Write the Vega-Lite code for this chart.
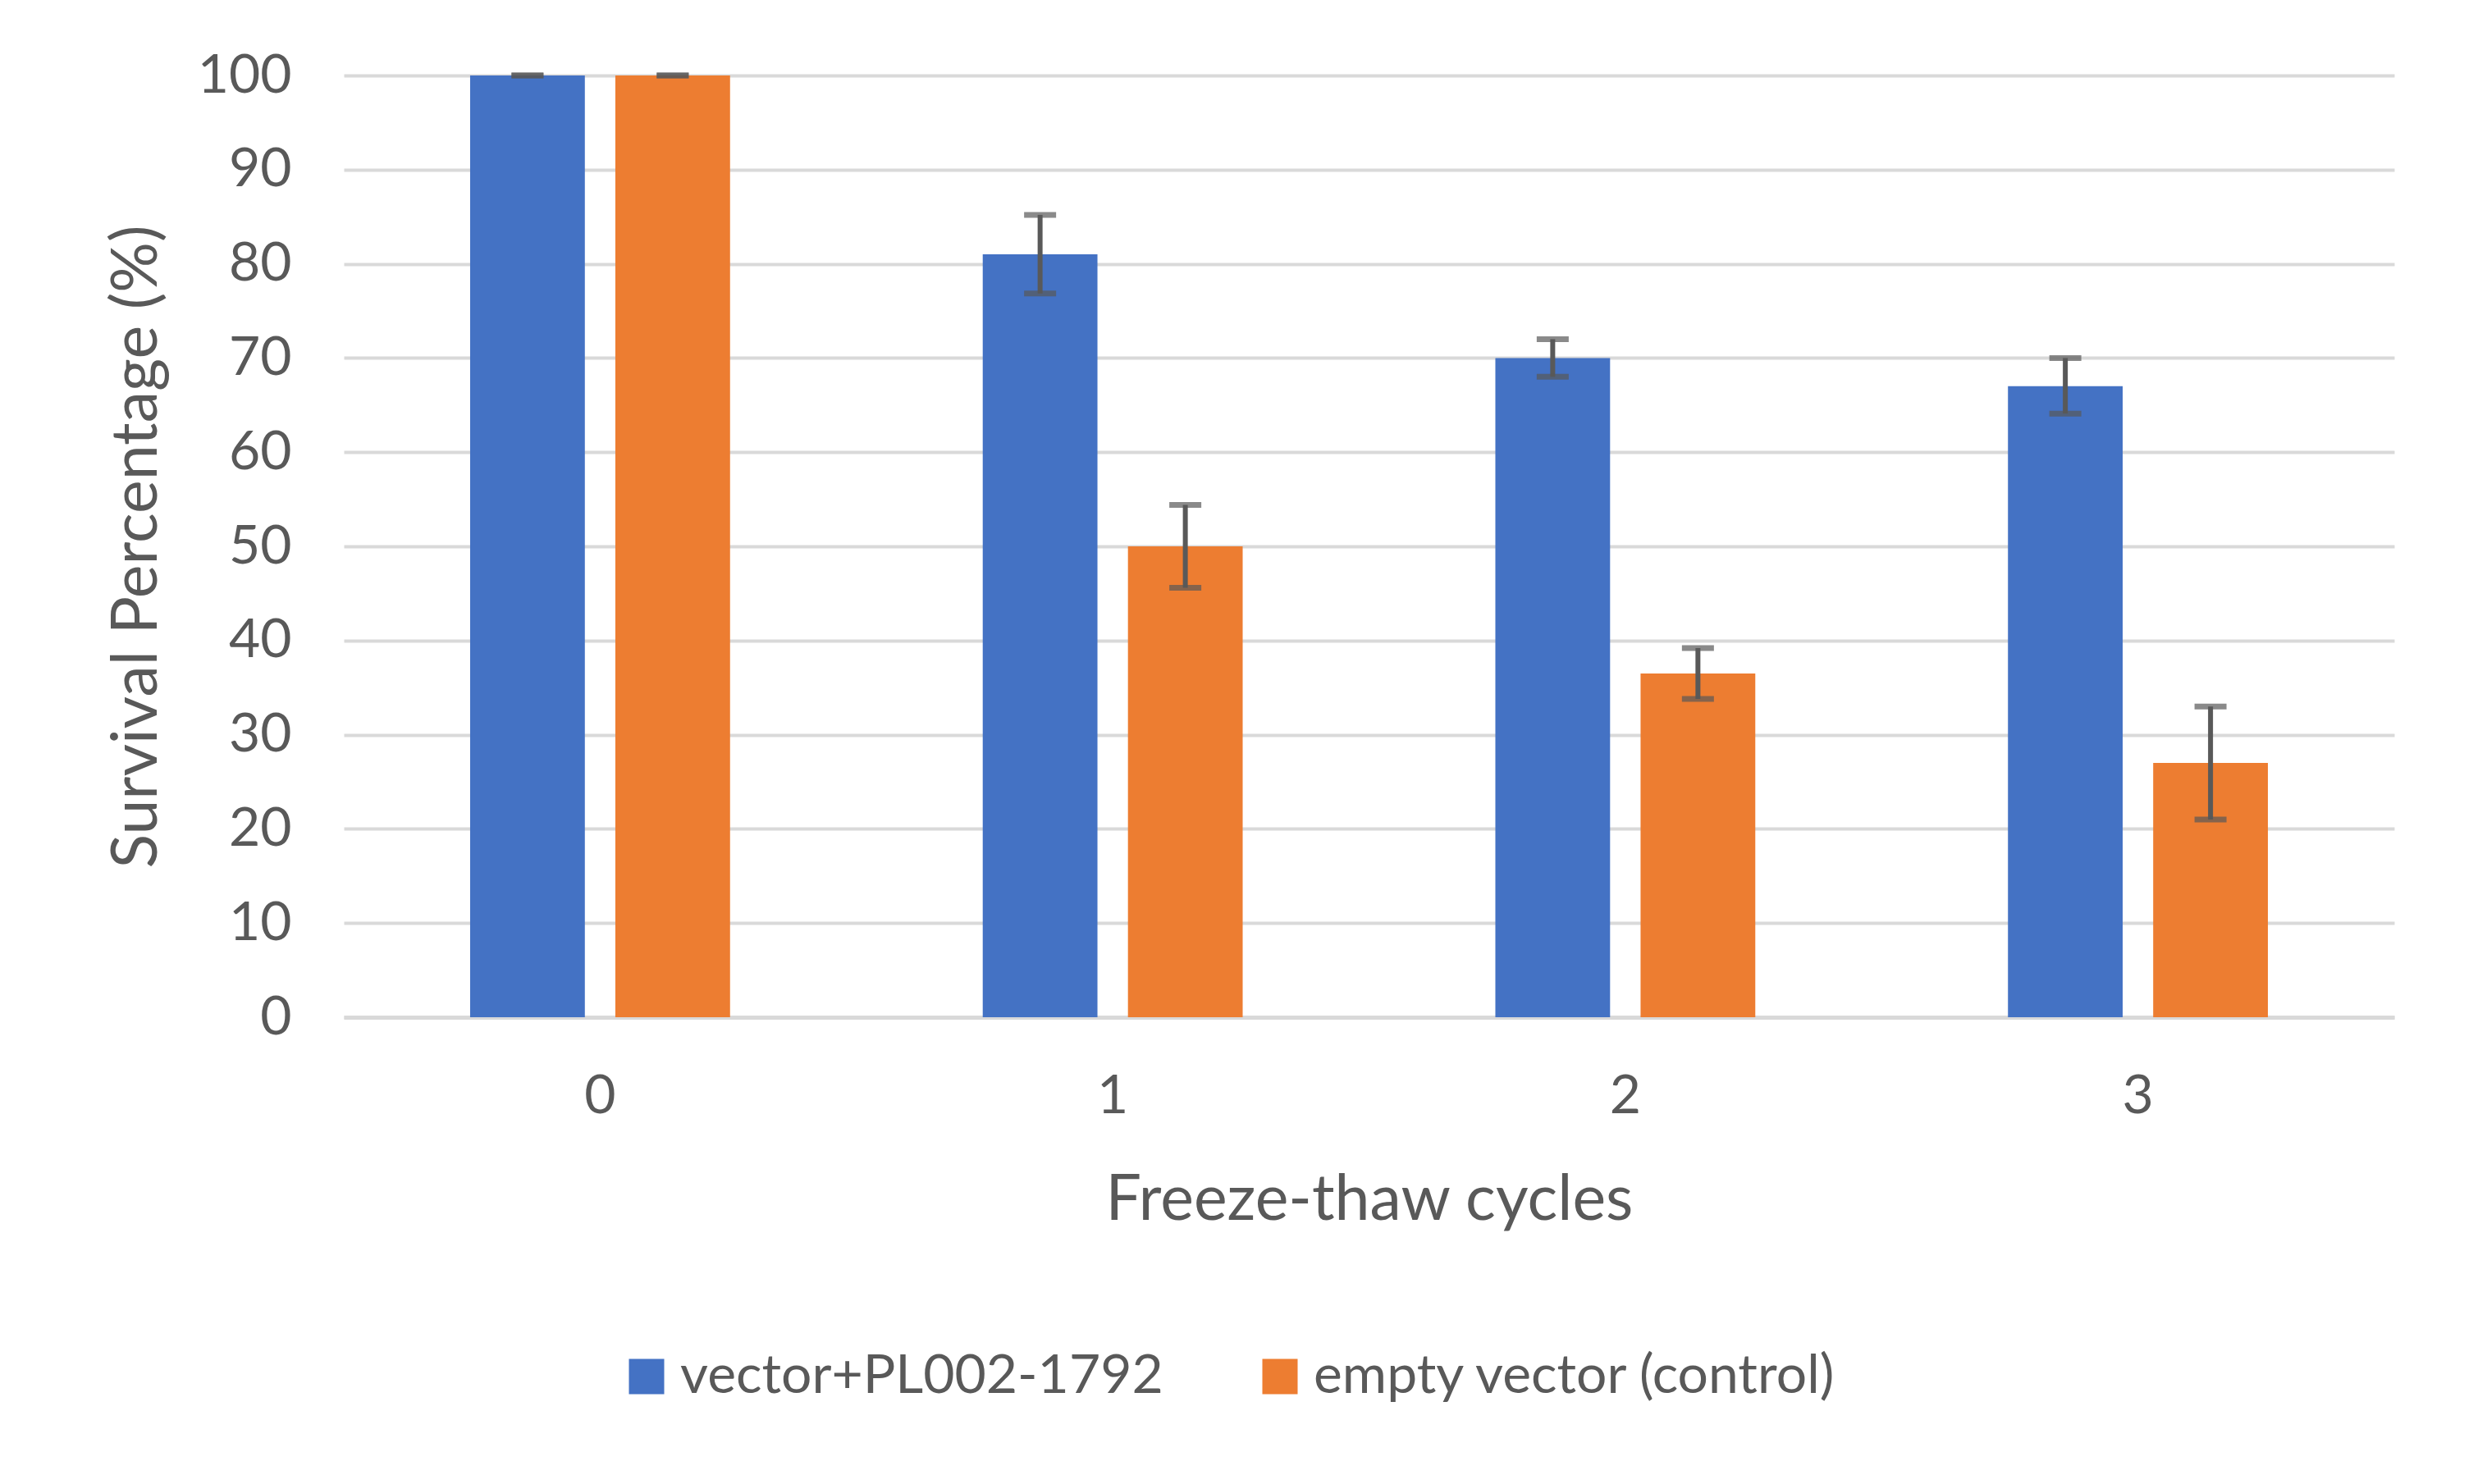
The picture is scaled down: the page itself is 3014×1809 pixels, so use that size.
{
  "$schema": "https://vega.github.io/schema/vega-lite/v6.json",
  "width": 2499,
  "height": 1148,
  "autosize": {"type": "none"},
  "padding": {"left": 419, "top": 92, "right": 96, "bottom": 569},
  "background": "white",
  "config": {
    "view": {"stroke": null},
    "font": "Lato",
    "axis": {
      "labelColor": "#595959",
      "titleColor": "#595959",
      "labelFontSize": 66,
      "titleFontSize": 77,
      "titleFontWeight": "normal",
      "labelFont": "Lato",
      "titleFont": "Lato"
    }
  },
  "data": {
    "values": [
      {"cycle": "0", "group": "vector+PL002-1792", "survival": 100, "lower": 100, "upper": 100},
      {"cycle": "0", "group": "empty vector (control)", "survival": 100, "lower": 100, "upper": 100},
      {"cycle": "1", "group": "vector+PL002-1792", "survival": 81, "lower": 76.85, "upper": 85.2},
      {"cycle": "1", "group": "empty vector (control)", "survival": 50, "lower": 45.6, "upper": 54.4},
      {"cycle": "2", "group": "vector+PL002-1792", "survival": 70, "lower": 68, "upper": 72},
      {"cycle": "2", "group": "empty vector (control)", "survival": 36.5, "lower": 33.8, "upper": 39.2},
      {"cycle": "3", "group": "vector+PL002-1792", "survival": 67, "lower": 64.1, "upper": 70},
      {"cycle": "3", "group": "empty vector (control)", "survival": 27, "lower": 21, "upper": 33}
    ]
  },
  "encoding": {
    "x": {
      "field": "cycle",
      "type": "nominal",
      "sort": ["0", "1", "2", "3"],
      "scale": {"paddingInner": 0, "paddingOuter": 0},
      "axis": {
        "title": "Freeze-thaw cycles",
        "labelAngle": 0,
        "labelPadding": 64,
        "ticks": false,
        "grid": false,
        "domain": true,
        "domainColor": "#d9d9d9",
        "domainWidth": 5,
        "titleX": 1249.5,
        "titleY": 223,
        "titleBaseline": "middle",
        "titleAnchor": "middle"
      }
    },
    "xOffset": {
      "field": "group",
      "type": "nominal",
      "sort": ["vector+PL002-1792", "empty vector (control)"],
      "scale": {"paddingInner": 0.21, "paddingOuter": 0.87}
    }
  },
  "layer": [
    {
      "mark": {"type": "bar"},
      "encoding": {
        "y": {
          "field": "survival",
          "type": "quantitative",
          "title": "Survival Percentage (%)",
          "scale": {"domain": [0, 100], "nice": false},
          "axis": {
            "values": [0, 10, 20, 30, 40, 50, 60, 70, 80, 90, 100],
            "domain": false,
            "ticks": false,
            "grid": true,
            "gridColor": "#d9d9d9",
            "gridWidth": 4,
            "labelPadding": 64,
            "titleAngle": -90,
            "titleX": -252,
            "titleY": 574,
            "titleBaseline": "middle",
            "titleAlign": "center"
          }
        },
        "color": {
          "field": "group",
          "type": "nominal",
          "sort": ["vector+PL002-1792", "empty vector (control)"],
          "scale": {"domain": ["vector+PL002-1792", "empty vector (control)"], "range": ["#4472c4", "#ed7d31"]},
          "legend": {
            "title": null,
            "orient": "none",
            "legendX": 336,
            "legendY": 1553,
            "direction": "horizontal",
            "symbolType": "square",
            "symbolSize": 1849,
            "symbolStrokeWidth": 0,
            "labelFontSize": 66,
            "labelColor": "#595959",
            "labelFont": "Lato",
            "labelOffset": 8,
            "columnPadding": 109,
            "padding": 0,
            "labelLimit": 2000
          }
        }
      }
    },
    {
      "mark": {"type": "rule", "color": "#595959", "strokeWidth": 6},
      "encoding": {
        "y": {"field": "lower", "type": "quantitative", "title": "Survival Percentage (%)"},
        "y2": {"field": "upper"}
      }
    },
    {
      "mark": {"type": "tick", "color": "#595959", "thickness": 7, "size": 39},
      "encoding": {
        "y": {"field": "lower", "type": "quantitative", "title": "Survival Percentage (%)"}
      }
    },
    {
      "mark": {"type": "tick", "color": "#595959", "thickness": 7, "size": 39},
      "encoding": {
        "y": {"field": "upper", "type": "quantitative", "title": "Survival Percentage (%)"}
      }
    }
  ]
}
